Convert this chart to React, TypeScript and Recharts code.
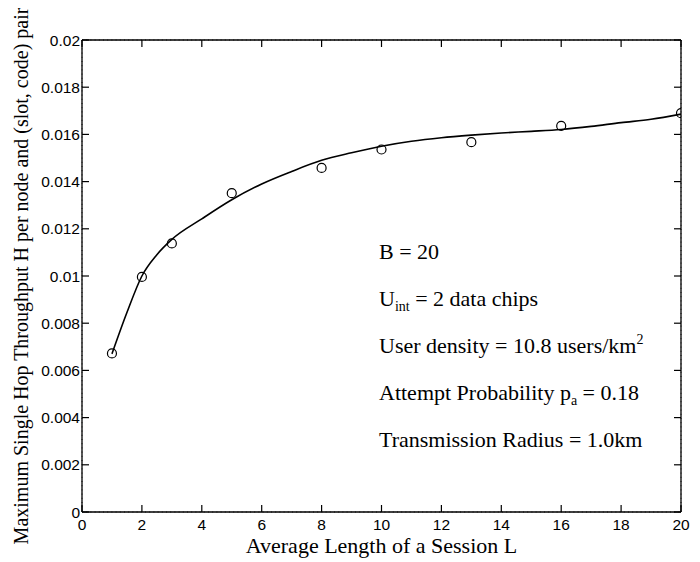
import React from "react";
import {
  ComposedChart,
  Line,
  Scatter,
  XAxis,
  YAxis,
  CartesianGrid,
} from "recharts";

// Fitted throughput curve H(L)
const curveL = [1, 1.5, 2, 2.5, 3, 4, 5, 6, 7, 8, 9, 10, 11, 12, 13, 14, 15, 16, 17, 18, 19, 20];
const curveH = [
  0.0067, 0.00845, 0.01, 0.0109, 0.01155, 0.01242, 0.01323, 0.0139, 0.01443, 0.0149, 0.01522,
  0.0155, 0.01571, 0.01586, 0.01597, 0.01606, 0.01613, 0.01621, 0.01634, 0.0165, 0.01664, 0.01686,
];

// Simulated points
const simL = [1, 2, 3, 5, 8, 10, 13, 16, 20];
const simH = [0.00672, 0.00996, 0.01138, 0.01351, 0.01458, 0.01536, 0.01567, 0.01636, 0.0169];

const xTicks = [0, 2, 4, 6, 8, 10, 12, 14, 16, 18, 20];
const yTicks = [0, 0.002, 0.004, 0.006, 0.008, 0.01, 0.012, 0.014, 0.016, 0.018, 0.02];

const xTitle = "Average Length of a Session L";
const yTitle = "Maximum Single Hop Throughput H per node and (slot, code) pair";

const curve = curveL.map((L, i) => ({ L, H: curveH[i] }));
const sim = simL.map((L, i) => ({ L, H: simH[i] }));

const W = 692;
const H = 554;
const TICK_LEN = 7;
const serif = "'Liberation Serif', 'Times New Roman', serif";
const sans = "'Liberation Sans', Arial, Helvetica, sans-serif";

// Ticks point into the plot box; labels sit outside it.
const BottomTick = (props: any) => {
  const { x, y, payload } = props;
  const axisY = y - 7;
  return (
    <g>
      <line x1={x} y1={axisY} x2={x} y2={axisY - TICK_LEN} stroke="#000" strokeWidth={1.2} />
      <text x={x} y={y} dy="0.71em" textAnchor="middle" fontFamily={sans} fontSize={15.5} fill="#000">
        {String(payload.value)}
      </text>
    </g>
  );
};

const LeftTick = (props: any) => {
  const { x, y, payload } = props;
  const axisX = x + 2;
  return (
    <g>
      <line x1={axisX} y1={y} x2={axisX + TICK_LEN} y2={y} stroke="#000" strokeWidth={1.2} />
      <text x={x} y={y} dy="0.355em" textAnchor="end" fontFamily={sans} fontSize={15.5} fill="#000">
        {String(payload.value)}
      </text>
    </g>
  );
};

const TopTick = (props: any) => (
  <line x1={props.x} y1={props.y} x2={props.x} y2={props.y + TICK_LEN} stroke="#000" strokeWidth={1.2} />
);

const RightTick = (props: any) => (
  <line x1={props.x} y1={props.y} x2={props.x - TICK_LEN} y2={props.y} stroke="#000" strokeWidth={1.2} />
);

const XTitle = (props: any) => {
  const vb = props.viewBox || { x: 74, y: 504, width: 599, height: 50 };
  return (
    <text
      x={vb.x + vb.width / 2}
      y={vb.y + 41}
      textAnchor="middle"
      fontFamily={serif}
      fontSize={22}
      fill="#000"
    >
      {xTitle}
    </text>
  );
};

const YTitle = (props: any) => {
  const vb = props.viewBox || { x: 0, y: 32, width: 74, height: 472 };
  const cx = vb.x + 20;
  const cy = vb.y + vb.height / 2;
  return (
    <text
      x={cx}
      y={cy}
      transform={`rotate(-90, ${cx}, ${cy})`}
      textAnchor="middle"
      fontFamily={serif}
      fontSize={20}
      fill="#000"
    >
      {yTitle}
    </text>
  );
};

const OpenCircle = (props: any) => (
  <circle cx={props.cx} cy={props.cy} r={4.5} fill="none" stroke="#000" strokeWidth={1.2} />
);

const Annotations = () => {
  const x = 371;
  const style = { fontFamily: serif, fontSize: 22, fill: "#000" } as const;
  return (
    <svg
      width={W}
      height={H}
      style={{ position: "absolute", left: 0, top: 0, pointerEvents: "none" }}
    >
      <text x={x} y={251} {...style}>B = 20</text>
      <text x={x} y={298} {...style}>
        U<tspan fontSize={14} dy={5}>int</tspan>
        <tspan dy={-5}> = 2 data chips</tspan>
      </text>
      <text x={x} y={345} {...style}>
        User density = 10.8 users/km<tspan fontSize={14} dy={-9}>2</tspan>
      </text>
      <text x={x} y={392} {...style}>
        Attempt Probability p<tspan fontSize={14} dy={5}>a</tspan>
        <tspan dy={-5}> = 0.18</tspan>
      </text>
      <text x={x} y={439} {...style}>Transmission Radius = 1.0km</text>
    </svg>
  );
};

const axisLine = { stroke: "#000", strokeWidth: 1.3 };

export default function App() {
  return (
    <div style={{ position: "relative", width: W, height: H, background: "#fff" }}>
      <ComposedChart width={W} height={H} margin={{ top: 31, right: 18, bottom: 0, left: 0 }}>
        <CartesianGrid stroke="#000" strokeWidth={0.8} strokeDasharray="1 3.2" />
        <XAxis
          xAxisId="b"
          dataKey="L"
          type="number"
          domain={[0, 20]}
          ticks={xTicks}
          interval={0}
          allowDataOverflow
          height={50}
          tickSize={0}
          tickMargin={7}
          tickLine={false}
          tick={BottomTick}
          axisLine={axisLine}
          label={{ content: <XTitle /> }}
        />
        <XAxis
          xAxisId="t"
          orientation="top"
          dataKey="L"
          type="number"
          domain={[0, 20]}
          ticks={xTicks}
          interval={0}
          allowDataOverflow
          height={1}
          tickSize={0}
          tickMargin={0}
          tickLine={false}
          tick={TopTick}
          axisLine={axisLine}
        />
        <YAxis
          yAxisId="l"
          type="number"
          domain={[0, 0.02]}
          ticks={yTicks}
          interval={0}
          allowDataOverflow
          width={74}
          tickSize={0}
          tickMargin={2}
          tickLine={false}
          tick={LeftTick}
          axisLine={axisLine}
          label={{ content: <YTitle /> }}
        />
        <YAxis
          yAxisId="r"
          orientation="right"
          type="number"
          domain={[0, 0.02]}
          ticks={yTicks}
          interval={0}
          allowDataOverflow
          width={1}
          tickSize={0}
          tickMargin={0}
          tickLine={false}
          tick={RightTick}
          axisLine={axisLine}
        />
        <Line
          xAxisId="b"
          yAxisId="l"
          data={curve}
          dataKey="H"
          type="monotone"
          stroke="#000"
          strokeWidth={1.6}
          dot={false}
          activeDot={false}
          isAnimationActive={false}
        />
        <Scatter
          xAxisId="b"
          yAxisId="l"
          data={sim}
          dataKey="H"
          shape={<OpenCircle />}
          isAnimationActive={false}
        />
      </ComposedChart>
      <Annotations />
    </div>
  );
}
